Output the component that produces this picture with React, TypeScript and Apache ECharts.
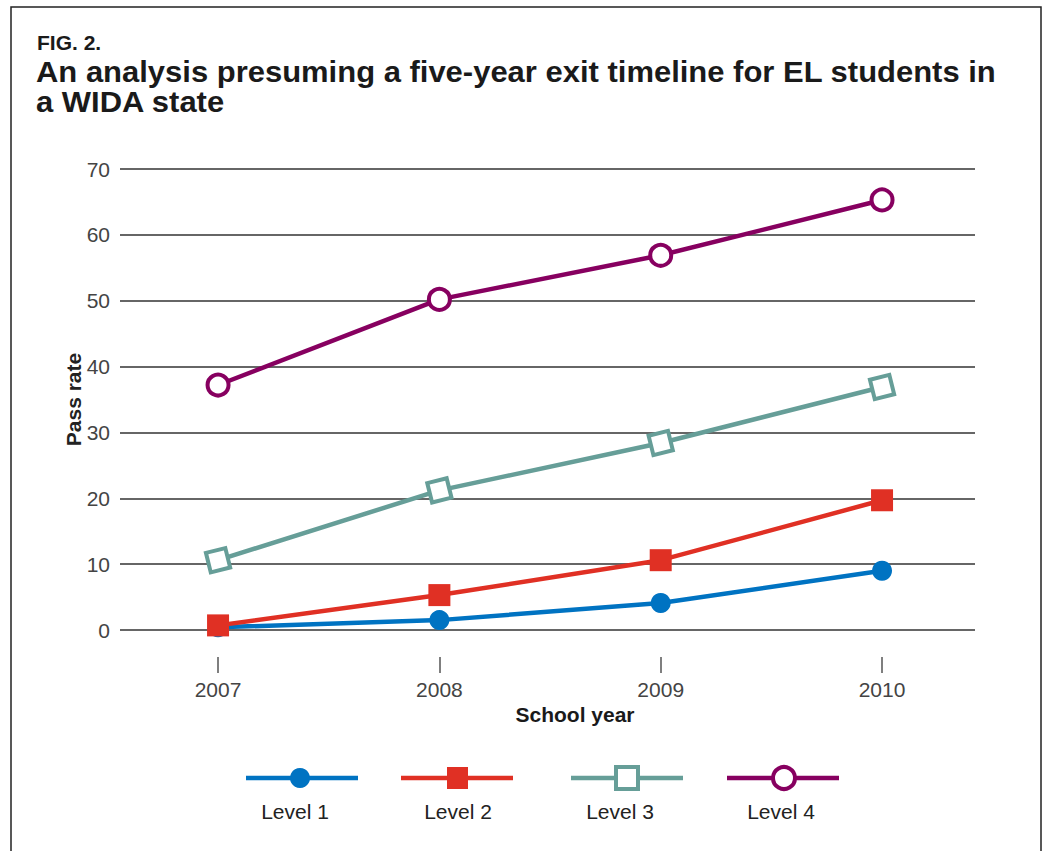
import React, { useEffect, useRef } from "react";
import * as echarts from "echarts";

const years = [2007, 2008, 2009, 2010];
const level1 = [0.4, 1.5, 4.1, 9.0];
const level2 = [0.7, 5.3, 10.6, 19.7];
const level3 = [10.6, 21.2, 28.4, 36.9];
const level4 = [37.2, 50.2, 56.9, 65.3];
const seriesNames = ["Level 1", "Level 2", "Level 3", "Level 4"];
const yTicks = [0, 10, 20, 30, 40, 50, 60, 70];

const FONT = "'Liberation Sans', Arial, Helvetica, sans-serif";
const C1 = "#0073c2";
const C2 = "#e03024";
const C3 = "#669e98";
const C4 = "#870060";

export default function App() {
  const ref = useRef<HTMLDivElement>(null);
  useEffect(() => {
    document.body.style.margin = "0";
    if (!ref.current) return;
    const chart = echarts.init(ref.current, null, { renderer: "svg" });
    const pts = (vals: number[]) => years.map((y, i) => [y, vals[i]]);
    const lineW = 4.5;
    const legendY = 778;
    const legendItems = [
      { x: 246, color: C1, kind: "dot", tx: 295 },
      { x: 401, color: C2, kind: "fsq", tx: 458 },
      { x: 571, color: C3, kind: "osq", tx: 620 },
      { x: 727, color: C4, kind: "oc", tx: 781 },
    ];
    const legendGraphics: any[] = [];
    legendItems.forEach((it, i) => {
      const cx = it.x + 56;
      legendGraphics.push({
        type: "line",
        shape: { x1: it.x, y1: legendY, x2: it.x + 112, y2: legendY },
        style: { stroke: it.color, lineWidth: 4.5 },
      });
      if (it.kind === "dot") {
        legendGraphics.push({ type: "circle", shape: { cx: cx - 2, cy: legendY, r: 10 }, style: { fill: it.color } });
      } else if (it.kind === "fsq") {
        legendGraphics.push({ type: "rect", shape: { x: cx - 10, y: legendY - 11, width: 21, height: 22 }, style: { fill: it.color } });
      } else if (it.kind === "osq") {
        legendGraphics.push({ type: "rect", shape: { x: cx - 11, y: legendY - 11, width: 22, height: 22 }, style: { fill: "#fff", stroke: it.color, lineWidth: 4 } });
      } else {
        legendGraphics.push({ type: "circle", shape: { cx: cx + 1, cy: legendY, r: 11 }, style: { fill: "#fff", stroke: it.color, lineWidth: 4 } });
      }
      legendGraphics.push({
        type: "text",
        x: it.tx,
        y: 811,
        style: { text: seriesNames[i], font: `21px ${FONT}`, fill: "#222", align: "center", verticalAlign: "middle" },
      });
    });

    chart.setOption({
      animation: false,
      backgroundColor: "#fff",
      grid: { left: 120, right: 70, top: 169, bottom: 221, containLabel: false },
      xAxis: {
        type: "value",
        min: 2006.557,
        max: 2010.42,
        axisLine: { show: false },
        splitLine: { show: false },
        axisTick: {
          show: true,
          customValues: years,
          length: 43,
          lineStyle: { color: "#555", width: 1.5, type: [0, 27, 16, 60] },
        },
        axisLabel: {
          customValues: years,
          formatter: (v: number) => String(v),
          fontFamily: FONT,
          fontSize: 21,
          color: "#444",
          margin: 49,
        },
      },
      yAxis: {
        type: "value",
        min: 0,
        max: 70,
        interval: 10,
        axisLine: { show: false },
        axisTick: { show: false },
        axisLabel: { fontFamily: FONT, fontSize: 21, color: "#444", margin: 10, customValues: yTicks },
        splitLine: { lineStyle: { color: "#333", width: 1.5 } },
        name: "Pass rate",
        nameLocation: "middle",
        nameGap: 36,
        nameMoveOverlap: false,
        nameRotate: 90,
        nameTextStyle: { fontFamily: FONT, fontSize: 21, fontWeight: "bold", color: "#222" },
      },
      series: [
        {
          name: seriesNames[0], type: "line", data: pts(level1), symbol: "circle", symbolSize: 20,
          lineStyle: { color: C1, width: lineW }, itemStyle: { color: C1 }, z: 5,
        },
        {
          name: seriesNames[1], type: "line", data: pts(level2), symbol: "rect", symbolSize: 22,
          lineStyle: { color: C2, width: lineW }, itemStyle: { color: C2 }, z: 6,
        },
        {
          name: seriesNames[2], type: "line", data: pts(level3), symbol: "rect", symbolSize: 20, symbolRotate: 14,
          lineStyle: { color: C3, width: lineW }, itemStyle: { color: "#fff", borderColor: C3, borderWidth: 4 }, z: 4,
        },
        {
          name: seriesNames[3], type: "line", data: pts(level4), symbol: "circle", symbolSize: 21,
          lineStyle: { color: C4, width: lineW }, itemStyle: { color: "#fff", borderColor: C4, borderWidth: 4 }, z: 4,
        },
      ],
      graphic: [
        {
          type: "rect",
          shape: { x: 11, y: 7, width: 1030, height: 900 },
          style: { fill: "none", stroke: "#222", lineWidth: 1.5 },
          silent: true,
        },
        {
          type: "text", x: 37, y: 42,
          style: { text: "FIG. 2.", font: `bold 21px ${FONT}`, fill: "#1a1a1a", verticalAlign: "middle" },
        },
        {
          type: "text", x: 36, y: 72, scaleX: 1.068,
          style: {
            text: "An analysis presuming a five-year exit timeline for EL students in",
            font: `bold 29px ${FONT}`,
            fill: "#1a1a1a",
            verticalAlign: "middle",
          },
        },
        {
          type: "text", x: 36, y: 102, scaleX: 1.068,
          style: {
            text: "a WIDA state",
            font: `bold 29px ${FONT}`,
            fill: "#1a1a1a",
            verticalAlign: "middle",
          },
        },
        {
          type: "text", x: 575, y: 714,
          style: { text: "School year", font: `bold 21px ${FONT}`, fill: "#1a1a1a", align: "center", verticalAlign: "middle" },
        },
        ...legendGraphics,
      ],
    });
    return () => chart.dispose();
  }, []);
  return <div ref={ref} style={{ width: 1045, height: 851 }} />;
}
